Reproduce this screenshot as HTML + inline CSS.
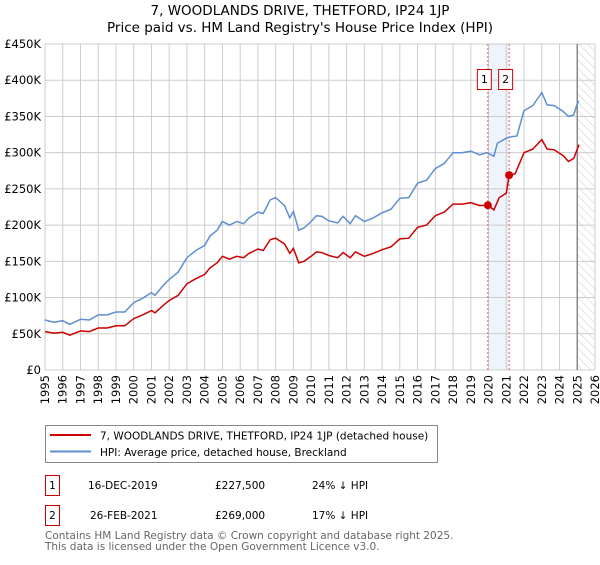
<!DOCTYPE html>
<html><head><meta charset="utf-8"><style>
body{margin:0;background:#fff;width:600px;height:560px;overflow:hidden;font-family:"Liberation Sans","DejaVu Sans",sans-serif}
</style></head><body>
<svg id="chart" width="600" height="560" xmlns="http://www.w3.org/2000/svg" font-family="DejaVu Sans, Liberation Sans, sans-serif">
<defs><pattern id="hatch" width="6" height="6" patternUnits="userSpaceOnUse" patternTransform="rotate(-45)"><line x1="0" y1="0" x2="0" y2="6" stroke="#ccc" stroke-width="1"/></pattern></defs>
<text x="300" y="15" text-anchor="middle" font-size="13.5" fill="#000">7, WOODLANDS DRIVE, THETFORD, IP24 1JP</text>
<text x="300" y="32" text-anchor="middle" font-size="13.5" fill="#000">Price paid vs. HM Land Registry's House Price Index (HPI)</text>
<g id="grid"></g>
<g id="marks"></g>
<g id="legend">
<rect x="45.5" y="425.5" width="392" height="37" fill="#fff" stroke="#888"/>
<line x1="50" y1="435" x2="91" y2="435" stroke="#cc0000" stroke-width="2"/>
<text x="100" y="439.5" font-size="10.5">7, WOODLANDS DRIVE, THETFORD, IP24 1JP (detached house)</text>
<line x1="50" y1="451.5" x2="91" y2="451.5" stroke="#5f8fd0" stroke-width="2"/>
<text x="100" y="456" font-size="10.5">HPI: Average price, detached house, Breckland</text>
</g>
<g font-size="10.5">
<rect x="45.5" y="475.5" width="14" height="20" fill="#fff" stroke="#cc0000"/>
<text x="52.5" y="489" text-anchor="middle">1</text>
<text x="88" y="489">16-DEC-2019</text><text x="215" y="489">£227,500</text><text x="312" y="489">24% ↓ HPI</text>
<rect x="45.5" y="505.5" width="14" height="20" fill="#fff" stroke="#cc0000"/>
<text x="52.5" y="519" text-anchor="middle">2</text>
<text x="90" y="519">26-FEB-2021</text><text x="215" y="519">£269,000</text><text x="312" y="519">17% ↓ HPI</text>
</g>
<text x="45" y="539" font-size="10.5" fill="#666">Contains HM Land Registry data © Crown copyright and database right 2025.</text>
<text x="45" y="550" font-size="10.5" fill="#666">This data is licensed under the Open Government Licence v3.0.</text>
</svg>
<script>
const yTicks=[0,50,100,150,200,250,300,350,400,450];
const yTickLabels=["£0","£50K","£100K","£150K","£200K","£250K","£300K","£350K","£400K","£450K"];
const xYears=[1995,1996,1997,1998,1999,2000,2001,2002,2003,2004,2005,2006,2007,2008,2009,2010,2011,2012,2013,2014,2015,2016,2017,2018,2019,2020,2021,2022,2023,2024,2025,2026];
const hpiT=[1995.0,1995.5,1996.0,1996.4,1997.0,1997.5,1998.0,1998.5,1999.0,1999.5,2000.0,2000.5,2001.0,2001.2,2001.7,2002.0,2002.5,2003.0,2003.5,2004.0,2004.3,2004.7,2005.0,2005.4,2005.8,2006.2,2006.5,2007.0,2007.3,2007.7,2008.0,2008.5,2008.8,2009.0,2009.3,2009.6,2010.0,2010.3,2010.6,2011.0,2011.5,2011.8,2012.2,2012.5,2013.0,2013.5,2014.0,2014.5,2015.0,2015.5,2016.0,2016.5,2017.0,2017.5,2018.0,2018.5,2019.0,2019.5,2019.9,2020.3,2020.5,2021.0,2021.3,2021.6,2022.0,2022.5,2023.0,2023.3,2023.7,2024.2,2024.5,2024.8,2025.0,2025.1];
const hpiV=[69,66,68,63,70,69,76,76,80,80,93,99,107,103,118,125,135,155,165,172,185,193,205,200,205,202,210,218,216,235,238,227,210,219,193,196,205,213,212,206,203,212,202,213,205,210,217,222,237,238,258,262,278,285,300,300,302,297,300,295,313,320,322,323,358,365,383,366,365,357,350,352,368,371];
const propT=[1995.0,1995.5,1996.0,1996.4,1997.0,1997.5,1998.0,1998.5,1999.0,1999.5,2000.0,2000.5,2001.0,2001.2,2001.7,2002.0,2002.5,2003.0,2003.5,2004.0,2004.3,2004.7,2005.0,2005.4,2005.8,2006.2,2006.5,2007.0,2007.3,2007.7,2008.0,2008.5,2008.8,2009.0,2009.3,2009.6,2010.0,2010.3,2010.6,2011.0,2011.5,2011.8,2012.2,2012.5,2013.0,2013.5,2014.0,2014.5,2015.0,2015.5,2016.0,2016.5,2017.0,2017.5,2018.0,2018.5,2019.0,2019.5,2019.96,2020.3,2020.6,2021.0,2021.16,2021.5,2022.0,2022.5,2023.0,2023.3,2023.7,2024.2,2024.5,2024.8,2025.0,2025.1];
const propV=[53,51,52,48,54,53,58,58,61,61,71,76,82,79,90,96,103,119,126,132,141,148,157,153,157,155,161,167,165,180,182,174,161,168,148,150,157,163,162,158,155,162,155,163,157,161,166,170,181,182,197,200,213,218,229,229,231,227,227.5,221,238,244,269,271,300,305,318,305,304,296,288,292,305,311];
const saleT=[2019.96,2021.16];
const saleV=[227.5,269];
const saleLabels=["1","2"];
const NS="http://www.w3.org/2000/svg";
const X0=45,X1=595,Y0=370,Y1=44;
const xS=t=>X0+(t-1995)/(2026-1995)*(X1-X0);
const yS=v=>Y0-v/450*(Y0-Y1);
function mk(tag,attrs,parent){const e=document.createElementNS(NS,tag);for(const k in attrs)e.setAttribute(k,attrs[k]);parent.appendChild(e);return e;}
const grid=document.getElementById('grid'),marks=document.getElementById('marks');
const band=mk('rect',{x:xS(saleT[0]),y:Y1,width:xS(saleT[1])-xS(saleT[0]),height:Y0-Y1,fill:'#eef3fc'},grid);


const hat=mk('rect',{x:xS(2025.0),y:Y1,width:X1-xS(2025.0),height:Y0-Y1,fill:'url(#hatch)'},grid);


yTicks.forEach((v,i)=>{
  const l=mk('line',{x1:X0,x2:X1,y1:yS(v),y2:yS(v),stroke:'#ccc'},grid);
  
  
  const t=mk('text',{x:X0-4,y:yS(v)+4,'text-anchor':'end','font-size':'11.5'},grid);
  t.textContent=yTickLabels[i];
  
  
});
xYears.forEach(yr=>{
  const l=mk('line',{x1:xS(yr),x2:xS(yr),y1:Y1,y2:Y0,stroke:'#ccc'},grid);
  
  
  const t=mk('text',{transform:`translate(${xS(yr)+4},${Y0+5}) rotate(-90)`,'text-anchor':'end','font-size':'11.5'},grid);
  t.textContent=yr;
  
  
});
const vl=mk('line',{x1:xS(2025.0),x2:xS(2025.0),y1:Y1,y2:Y0,stroke:'#888','stroke-width':1.5},grid);


saleT.forEach((t,i)=>{
  const l=mk('line',{x1:xS(t),x2:xS(t),y1:Y1,y2:Y0,stroke:'#e06060','stroke-dasharray':'2,2'},grid);
  
  
  const r=mk('rect',{x:xS(t)-10.5,y:69.5,width:14,height:20,fill:'#fff',stroke:'#cc0000'},grid);
  
  
  const tx=mk('text',{x:xS(t)-3.5,y:83,'text-anchor':'middle','font-size':'11'},grid);
  tx.textContent=saleLabels[i];
  
  
});
const pts=(T,V)=>T.map((t,i)=>xS(t).toFixed(1)+','+yS(V[i]).toFixed(1)).join(' ');
const hp=mk('polyline',{points:pts(hpiT,hpiV),fill:'none',stroke:'#5f8fd0','stroke-width':1.5},marks);


const pp=mk('polyline',{points:pts(propT,propV),fill:'none',stroke:'#cc0000','stroke-width':1.5},marks);


saleT.forEach((t,i)=>{
  const c=mk('circle',{cx:xS(t),cy:yS(saleV[i]),r:4,fill:'#cc0000'},marks);
  
  
});
</script>
</body></html>
